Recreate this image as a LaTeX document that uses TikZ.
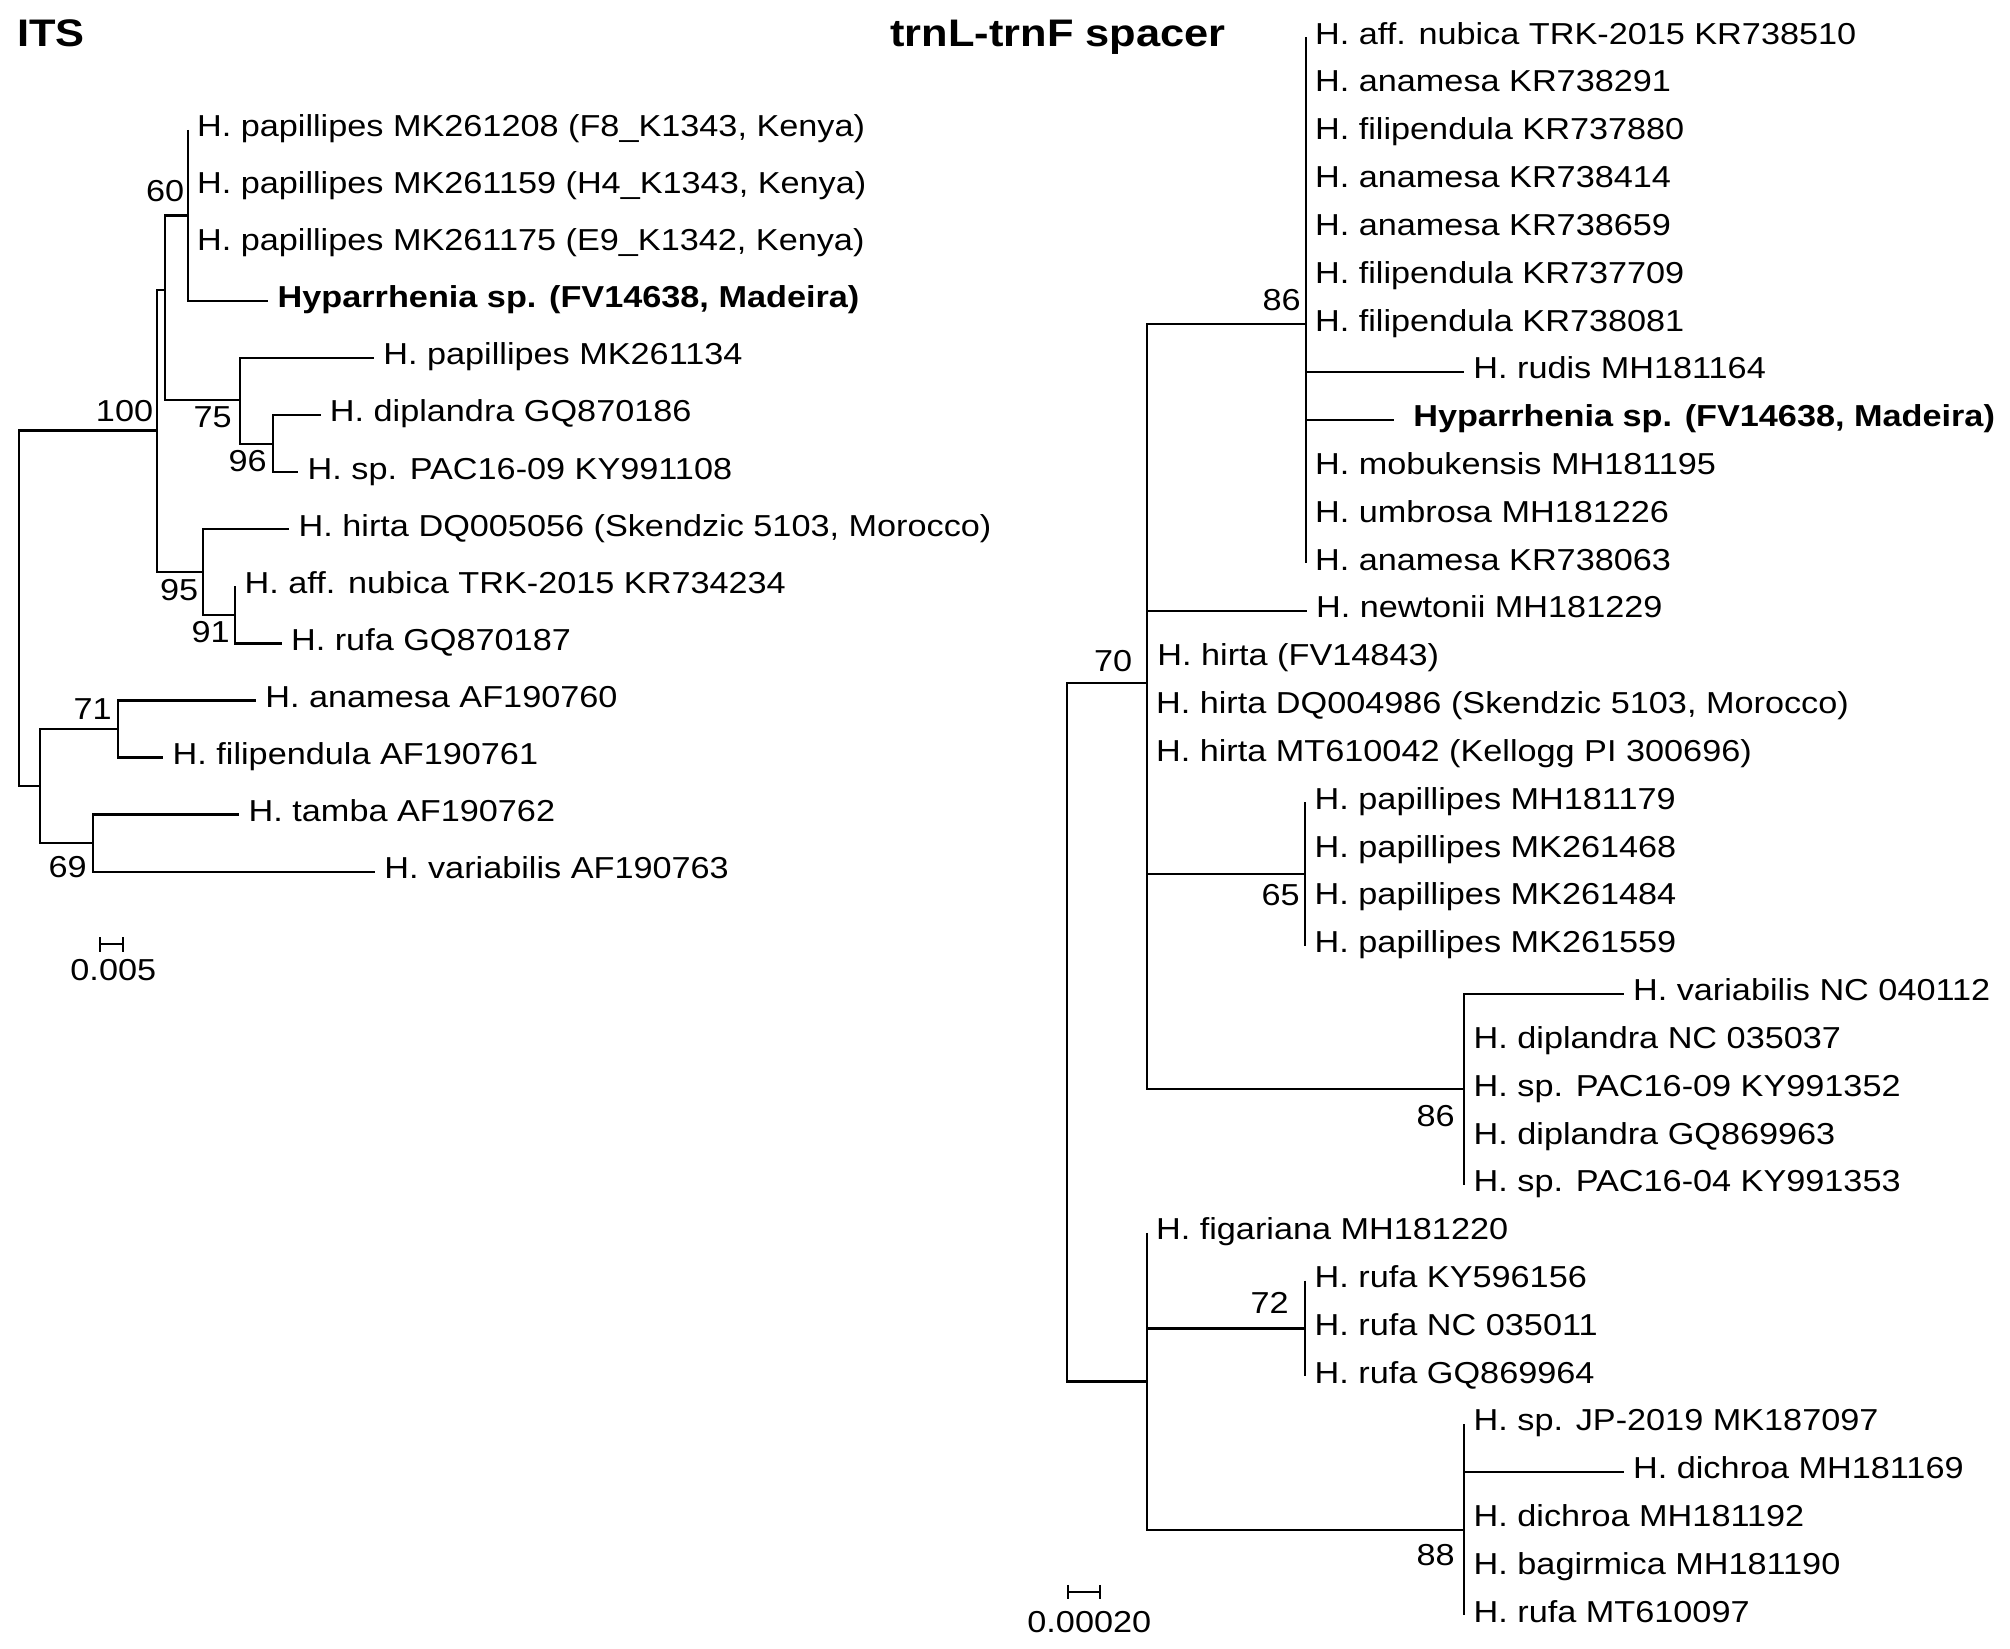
\documentclass[tikz,border=0pt]{standalone}
\usepackage{fontspec}
\setmainfont{Liberation Sans}[FakeStretch=1.13]
\begin{document}
\begin{tikzpicture}[x=0.5pt,y=-0.5pt,
  br/.style={line width=1.15pt},
  leaf/.style={anchor=west, inner xsep=4.5pt, inner ysep=0pt, text height=6.85pt, text depth=0pt,
    font=\fontsize{15.15pt}{18pt}\selectfont},
  bs/.style={anchor=east, inner sep=0pt, text height=10.85pt, text depth=0pt,
    font=\fontsize{15.15pt}{18pt}\selectfont},
  sbl/.style={anchor=center, inner sep=0pt, text height=10.85pt, text depth=0pt,
    font=\fontsize{15.15pt}{18pt}\selectfont},
  ttl/.style={anchor=base west, inner sep=0pt, font=\fontsize{19.2pt}{22pt}\selectfont\bfseries}]
\useasboundingbox (0,0) rectangle (2010,1649);

% ---------------- titles
\node[ttl] (tITS) at (16.7,46.5) {ITS};
\node[ttl] (tTRN) at (890,46.5) {trnL-trnF spacer};

% ---------------- ITS tree
\coordinate (rL) at (19,608.3);
\coordinate (n100) at (156.7,430.5);
\coordinate (nA) at (165,290);
\coordinate (n60) at (187.7,215.4);
\coordinate (n75) at (240,400);
\coordinate (n96) at (273.3,443.7);
\coordinate (n95) at (203.3,572);
\coordinate (n91) at (235.3,614.9);
\coordinate (nB) at (40,786.1);
\coordinate (n71) at (117.7,729.1);
\coordinate (n69) at (92.7,843.2);

\node[leaf] (a1) at (187.7,129.8) {H. papillipes MK261208 (F8\_K1343, Kenya)};
\node[leaf] (a2) at (187.7,186.9) {H. papillipes MK261159 (H4\_K1343, Kenya)};
\node[leaf] (a3) at (187.7,243.9) {H. papillipes MK261175 (E9\_K1342, Kenya)};
\node[leaf] (a4) at (268.3,301.0) {\bfseries Hyparrhenia sp. (FV14638, Madeira)};
\node[leaf] (a5) at (374,358.1) {H. papillipes MK261134};
\node[leaf] (a6) at (320.5,415.1) {H. diplandra GQ870186};
\node[leaf] (a7) at (298.3,472.2) {H. sp. PAC16-09 KY991108};
\node[leaf] (a8) at (289.3,529.3) {H. hirta DQ005056 (Skendzic 5103, Morocco)};
\node[leaf] (a9) at (235.3,586.4) {H. aff. nubica TRK-2015 KR734234};
\node[leaf] (a10) at (281.7,643.4) {H. rufa GQ870187};
\node[leaf] (a11) at (256,700.5) {H. anamesa AF190760};
\node[leaf] (a12) at (163.3,757.6) {H. filipendula AF190761};
\node[leaf] (a13) at (239.3,814.6) {H. tamba AF190762};
\node[leaf] (a14) at (375,871.7) {H. variabilis AF190763};

\draw[br] (rL) |- (n100);
\draw[br] (rL) |- (nB);
\draw[br] (n100) |- (nA);
\draw[br] (n100) |- (n95);
\draw[br] (nA) |- (n60);
\draw[br] (nA) |- (n75);
\draw[br] (n60 |- a1.west) -- (n60) |- (a4.west);
\draw[br] (n75) |- (a5.west);
\draw[br] (n75) |- (n96);
\draw[br] (n96) |- (a6.west);
\draw[br] (n96) |- (a7.west);
\draw[br] (n95) |- (a8.west);
\draw[br] (n95) |- (n91);
\draw[br] (n91 |- a9.west) -- (n91) |- (a10.west);
\draw[br] (nB) |- (n71);
\draw[br] (nB) |- (n69);
\draw[br] (n71) |- (a11.west);
\draw[br] (n71) |- (a12.west);
\draw[br] (n69) |- (a13.west);
\draw[br] (n69) |- (a14.west);

\node[bs] (s60) at (184.5,191) {60};
\node[bs] (s100) at (153.5,411) {100};
\node[bs] (s75) at (232,416.7) {75};
\node[bs] (s96) at (267,461) {96};
\node[bs] (s95) at (198.5,590) {95};
\node[bs] (s91) at (230,631.7) {91};
\node[bs] (s71) at (112,708.3) {71};
\node[bs] (s69) at (87,866.7) {69};

% scale bar ITS
\coordinate (sl1) at (100,944.3);
\coordinate (sl2) at (122.7,944.3);
\draw[br] (sl1) -- (sl2);
\draw[br] ([yshift=3.6pt]sl1) -- ([yshift=-3.6pt]sl1);
\draw[br] ([yshift=3.6pt]sl2) -- ([yshift=-3.6pt]sl2);
\node[sbl] (slt) at (113.3,970) {0.005};

% ---------------- trnL-trnF tree
\coordinate (rR) at (1066.7,1032.2);
\coordinate (m70) at (1146.7,682.9);
\coordinate (m86a) at (1305.7,324.2);
\coordinate (m65) at (1305.3,874.2);
\coordinate (m86b) at (1464.3,1089.3);
\coordinate (mC) at (1146.7,1381.4);
\coordinate (m72) at (1305.3,1328.4);
\coordinate (m88) at (1464.3,1530);

\node[leaf] (b1) at (1305.7,37.3) {H. aff. nubica TRK-2015 KR738510};
\node[leaf] (b2) at (1305.7,85.1) {H. anamesa KR738291};
\node[leaf] (b3) at (1305.7,132.9) {H. filipendula KR737880};
\node[leaf] (b4) at (1305.7,180.8) {H. anamesa KR738414};
\node[leaf] (b5) at (1305.7,228.6) {H. anamesa KR738659};
\node[leaf] (b6) at (1305.7,276.4) {H. filipendula KR737709};
\node[leaf] (b7) at (1305.7,324.2) {H. filipendula KR738081};
\node[leaf] (b8) at (1464,372.0) {H. rudis MH181164};
\node[leaf, inner xsep=9.3pt] (b9) at (1394.3,419.9) {\bfseries Hyparrhenia sp. (FV14638, Madeira)};
\node[leaf] (b10) at (1305.7,467.7) {H. mobukensis MH181195};
\node[leaf] (b11) at (1305.7,515.5) {H. umbrosa MH181226};
\node[leaf] (b12) at (1305.7,563.3) {H. anamesa KR738063};
\node[leaf] (b13) at (1306.7,611.1) {H. newtonii MH181229};
\node[leaf] (b14) at (1148,659.0) {H. hirta (FV14843)};
\node[leaf] (b15) at (1146.7,706.8) {H. hirta DQ004986 (Skendzic 5103, Morocco)};
\node[leaf] (b16) at (1146.7,754.6) {H. hirta MT610042 (Kellogg PI 300696)};
\node[leaf] (b17) at (1305.3,802.4) {H. papillipes MH181179};
\node[leaf] (b18) at (1305.3,850.2) {H. papillipes MK261468};
\node[leaf] (b19) at (1305.3,898.1) {H. papillipes MK261484};
\node[leaf] (b20) at (1305.3,945.9) {H. papillipes MK261559};
\node[leaf] (b21) at (1623.7,993.7) {H. variabilis NC 040112};
\node[leaf] (b22) at (1464.3,1041.5) {H. diplandra NC 035037};
\node[leaf] (b23) at (1464.3,1089.3) {H. sp. PAC16-09 KY991352};
\node[leaf] (b24) at (1464.3,1137.2) {H. diplandra GQ869963};
\node[leaf] (b25) at (1464.3,1185.0) {H. sp. PAC16-04 KY991353};
\node[leaf] (b26) at (1146.7,1232.8) {H. figariana MH181220};
\node[leaf] (b27) at (1305.3,1280.6) {H. rufa KY596156};
\node[leaf] (b28) at (1305.3,1328.4) {H. rufa NC 035011};
\node[leaf] (b29) at (1305.3,1376.3) {H. rufa GQ869964};
\node[leaf] (b30) at (1464.3,1424.1) {H. sp. JP-2019 MK187097};
\node[leaf] (b31) at (1623.7,1471.9) {H. dichroa MH181169};
\node[leaf] (b32) at (1464.3,1519.7) {H. dichroa MH181192};
\node[leaf] (b33) at (1464.3,1567.5) {H. bagirmica MH181190};
\node[leaf] (b34) at (1464.3,1615.4) {H. rufa MT610097};

\draw[br] (rR) |- (m70);
\draw[br] (rR) |- (mC);
\draw[br] (m70) |- (m86a);
\draw[br] (m70) |- (m86b);
\draw[br] (m70) |- (b13.west);
\draw[br] (m70) |- (m65);
\draw[br] (m86a |- b1.west) -- (m86a |- b12.west);
\draw[br] (m86a) |- (b8.west);
\draw[br] (m86a) |- (b9.west);
\draw[br] (m65 |- b17.west) -- (m65 |- b20.west);
\draw[br] (b21.west) -| (m86b |- b25.west);
\draw[br] (mC |- b26.west) -- (mC) |- (m88);
\draw[br] (mC) |- (m72);
\draw[br] (m72 |- b27.west) -- (m72 |- b29.west);
\draw[br] (m88 |- b30.west) -- (m88 |- b34.west);
\draw[br] (m88) |- (b31.west);

\node[bs] (t86a) at (1301,299.2) {86};
\node[bs] (t70) at (1132.5,660.8) {70};
\node[bs] (t65) at (1300,894.2) {65};
\node[bs] (t86b) at (1455,1115.8) {86};
\node[bs] (t72) at (1289,1302.5) {72};
\node[bs] (t88) at (1455,1554.2) {88};

% scale bar trnL-trnF
\coordinate (sr1) at (1067.7,1592);
\coordinate (sr2) at (1100,1592);
\draw[br] (sr1) -- (sr2);
\draw[br] ([yshift=3.6pt]sr1) -- ([yshift=-3.6pt]sr1);
\draw[br] ([yshift=3.6pt]sr2) -- ([yshift=-3.6pt]sr2);
\node[sbl] (srt) at (1089.3,1621.5) {0.00020};
\end{tikzpicture}
\end{document}
